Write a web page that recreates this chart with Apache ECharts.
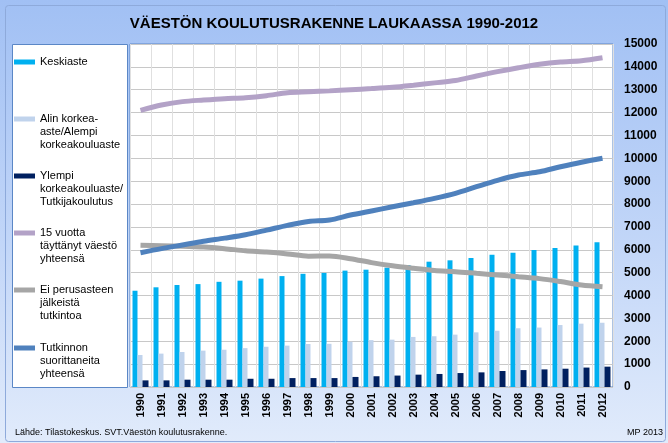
<!DOCTYPE html>
<html>
<head>
<meta charset="utf-8">
<script src="https://cdn.jsdelivr.net/npm/echarts@6/dist/echarts.min.js"></script>
<style>html,body{margin:0;padding:0;}#c{width:668px;height:443px;}</style>
</head>
<body>
<div id="c"></div>
<script>
var years = ['1990','1991','1992','1993','1994','1995','1996','1997','1998','1999','2000','2001','2002','2003','2004','2005','2006','2007','2008','2009','2010','2011','2012'];
var keskiaste = [4210,4360,4460,4500,4600,4650,4740,4850,4950,4990,5090,5130,5220,5330,5480,5540,5640,5780,5870,5990,6080,6190,6330];
var alinKorkea = [1400,1460,1530,1590,1630,1700,1760,1810,1880,1890,1980,2050,2070,2190,2220,2290,2390,2460,2570,2600,2710,2770,2810];
var ylempi = [290,290,320,320,320,360,360,390,390,390,440,470,500,540,570,610,640,700,740,770,800,850,890];
var vaesto15 = [12100,12330,12480,12550,12610,12650,12740,12870,12910,12950,13000,13050,13110,13200,13300,13400,13600,13790,13960,14110,14210,14270,14400];
var eiPerus = [6200,6180,6150,6120,6050,5960,5900,5820,5720,5730,5610,5440,5300,5190,5090,5040,4970,4900,4820,4740,4610,4460,4380];
var tutkinnon = [5870,6050,6210,6370,6510,6660,6860,7070,7240,7300,7520,7700,7880,8060,8250,8470,8760,9040,9270,9410,9630,9830,10000];
var yTicks = {min: 0, max: 15000, interval: 1000};

var names = ['Keskiaste', 'Alin korkea-\naste/Alempi\nkorkeakouluaste', 'Ylempi\nkorkeakouluaste/\nTutkijakoulutus', '15 vuotta\ntäyttänyt väestö\nyhteensä', 'Ei perusasteen\njälkeistä\ntutkintoa', 'Tutkinnon\nsuorittaneita\nyhteensä'];
var colors = ['#00b0f0', '#c0d3ec', '#002060', '#b3a2c7', '#a6a6a6', '#4f81bd'];
var legendY = [62, 119, 176, 233, 290, 348];

var legends = names.map(function (n, i) {
  var multi = n.indexOf('\n') >= 0;
  return {
    show: true,
    orient: 'vertical',
    left: 14,
    top: multi ? legendY[i] - 32.5 : legendY[i] - 6.5,
    padding: 0,
    itemWidth: 21,
    itemHeight: 5,
    icon: 'rect',
    selectedMode: false,
    data: [n],
    formatter: function (name) { return multi ? '\n\n' + name : name; },
    textStyle: {
      fontFamily: 'Liberation Sans, Arial, sans-serif',
      fontSize: 11,
      color: '#000',
      lineHeight: 13
    }
  };
});

var chart = echarts.init(document.getElementById('c'), null, {renderer: 'canvas'});
chart.setOption({
  animation: false,
  backgroundColor: {
    type: 'linear', x: 0, y: 0, x2: 0, y2: 1,
    colorStops: [{offset: 0, color: '#a1c0f4'}, {offset: 0.55, color: '#c2d6f8'}, {offset: 1, color: '#e1ebfb'}]
  },
  color: colors,
  title: [
    {text: 'VÄESTÖN KOULUTUSRAKENNE LAUKAASSA 1990-2012', left: 'center', top: 11,
     textStyle: {fontFamily: 'Liberation Sans, Arial, sans-serif', fontSize: 15, fontWeight: 'bold', color: '#000'}},
    {text: 'Lähde: Tilastokeskus. SVT.Väestön koulutusrakenne.', left: 10, top: 423,
     textStyle: {fontFamily: 'Liberation Sans, Arial, sans-serif', fontSize: 9, fontWeight: 'normal', color: '#000'}},
    {text: 'MP 2013', left: 622, top: 423,
     textStyle: {fontFamily: 'Liberation Sans, Arial, sans-serif', fontSize: 9, fontWeight: 'normal', color: '#000'}}
  ],
  graphic: [
    {type: 'rect', left: 3, top: 3, shape: {width: 660, height: 436, r: 3}, style: {fill: 'none', stroke: '#8eaadb', lineWidth: 1}, z: -1},
    {type: 'rect', left: 12, top: 44, shape: {width: 115, height: 343}, style: {fill: '#ffffff', stroke: '#5b87c6', lineWidth: 1}, z: -1}
  ],
  legend: legends,
  grid: {left: 130, right: 55, top: 44, bottom: 56, show: true, backgroundColor: '#ffffff', borderColor: '#5b87c6', borderWidth: 1},
  xAxis: {
    type: 'category',
    data: years,
    axisLine: {show: false},
    axisTick: {show: false},
    axisLabel: {rotate: 90, margin: 6, fontFamily: 'Liberation Sans, Arial, sans-serif', fontSize: 11, fontWeight: 'bold', color: '#000'},
    splitLine: {show: true, lineStyle: {color: '#e0e0e0', width: 1}}
  },
  yAxis: {
    type: 'value',
    position: 'right',
    min: yTicks.min, max: yTicks.max, interval: yTicks.interval,
    axisLine: {show: false},
    axisTick: {show: false},
    axisLabel: {margin: 11, formatter: function (v) { return String(v); }, fontFamily: 'Liberation Sans, Arial, sans-serif', fontSize: 12, fontWeight: 'bold', color: '#000'},
    splitLine: {show: true, lineStyle: {color: '#c8c8c8', width: 1}}
  },
  series: [
    {name: names[0], type: 'bar', data: keskiaste, barWidth: 5, barGap: '0%', itemStyle: {color: colors[0]}},
    {name: names[1], type: 'bar', data: alinKorkea, barWidth: 5, barGap: '0%', itemStyle: {color: colors[1]}},
    {name: names[2], type: 'bar', data: ylempi, barWidth: 6, barGap: '0%', itemStyle: {color: colors[2]}},
    {name: names[3], type: 'line', data: vaesto15, smooth: 0.3, symbol: 'none', lineStyle: {width: 5, color: colors[3]}, itemStyle: {color: colors[3]}, z: 5},
    {name: names[4], type: 'line', data: eiPerus, smooth: 0.3, symbol: 'none', lineStyle: {width: 5, color: colors[4]}, itemStyle: {color: colors[4]}, z: 5},
    {name: names[5], type: 'line', data: tutkinnon, smooth: 0.3, symbol: 'none', lineStyle: {width: 5, color: colors[5]}, itemStyle: {color: colors[5]}, z: 5}
  ]
});
</script>
</body>
</html>
